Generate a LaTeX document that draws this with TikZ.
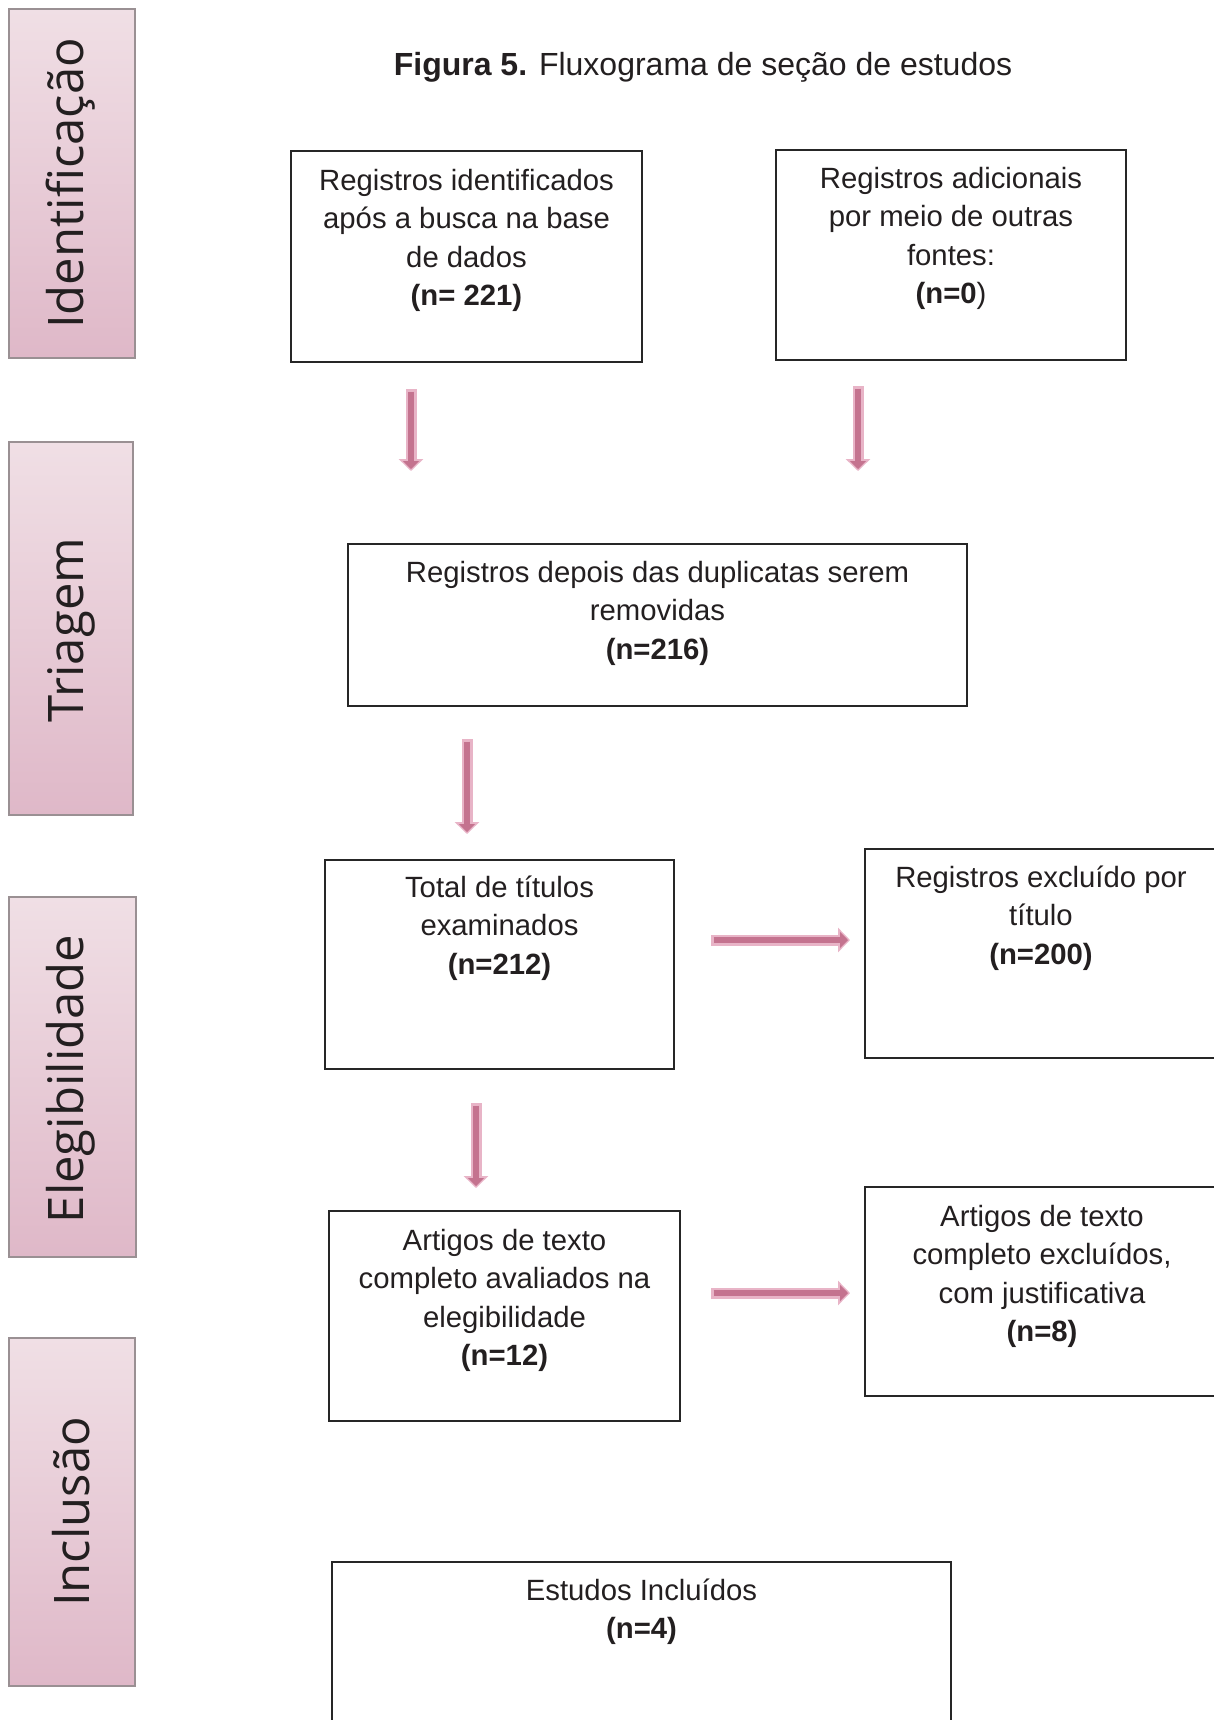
\documentclass[tikz,border=0pt]{standalone}
\usepackage{fontspec}
\setmainfont{Liberation Sans}
\newfontfamily\sidefont{Open Sans}
\usetikzlibrary{arrows.meta,fit}
\definecolor{sidetop}{HTML}{F0DFE5}
\definecolor{sidebot}{HTML}{DFB8C8}
\definecolor{sideedge}{HTML}{9A9093}
\definecolor{arrowfill}{HTML}{C4738F}
\definecolor{arrowedge}{HTML}{E8B4C7}
\definecolor{txt}{HTML}{231F20}
\tikzset{
  box/.style={draw=black!85, line width=0.6pt, inner sep=0pt, rectangle},
  sidebox/.style={draw=sideedge, line width=0.6pt, inner sep=0pt, rectangle, top color=sidetop, bottom color=sidebot},
  sidelabel/.style={rotate=90, inner sep=0pt, text=txt, font=\sidefont\fontsize{24.5}{28}\selectfont},
  boxtext/.style={anchor=north, align=center, inner sep=0pt, text=txt, font=\fontsize{14.65}{19.25}\selectfont},
  arrowout/.style={draw=arrowedge, line width=5.5pt, -{Triangle[width=12pt,length=6pt]}},
  arrowin/.style={draw=arrowfill, line width=3.2pt, shorten >=1pt, shorten <=1.3pt, -{Triangle[width=8pt,length=4pt]}}
}
\begin{document}
\begin{tikzpicture}[x=0.5pt,y=-0.5pt]
\useasboundingbox (0,0) rectangle (1214,1720);
\fill[white] (0,0) rectangle (1214,1720);

% side boxes
\node[sidebox, fit={(9,9) (135,358)}] (sIdent) {};
\node[sidebox, fit={(9,442) (133,815)}] (sTri) {};
\node[sidebox, fit={(9,897) (136,1257)}] (sEle) {};
\node[sidebox, fit={(9,1338) (135,1686)}] (sInc) {};
\node[sidelabel] (lIdent) at (71,183.5) {Identificação};
\node[sidelabel] (lTri) at (71,630) {Triagem};
\node[sidelabel] (lEle) at (71,1079) {Elegibilidade};
\node[sidelabel] (lInc) at (71,1512) {Inclusão};

% title
\node[inner sep=0pt, text=txt, font=\fontsize{16}{19}\selectfont] (title) at (703,67.5) {\textbf{Figura 5.} Fluxograma de seção de estudos};

% boxes
\node[box, fit={(291,151) (642,362)}] (A) {};
\node[box, fit={(776,150) (1126,360)}] (B) {};
\node[box, fit={(348,544) (967,706)}] (C) {};
\node[box, fit={(325,860) (674,1069)}] (D) {};
\node[box, fit={(865,849) (1217,1058)}] (E) {};
\node[box, fit={(329,1211) (680,1421)}] (F) {};
\node[box, fit={(865,1187) (1217,1396)}] (G) {};
\node[box, fit={(332,1562) (951,1730)}] (H) {};

\node[boxtext] (tA) at (466.5,168.5) {Registros identificados\\após a busca na base\\de dados\\\textbf{(n= 221)}};
\node[boxtext] (tB) at (951,166.5) {Registros adicionais\\por meio de outras\\fontes:\\\textbf{(n=0})};
\node[boxtext] (tC) at (657.5,560.5) {Registros depois das duplicatas serem\\removidas\\\textbf{(n=216)}};
\node[boxtext] (tD) at (499.5,875.5) {Total de títulos\\examinados\\\textbf{(n=212)}};
\node[boxtext] (tE) at (1041,865.5) {Registros excluído por\\título\\\textbf{(n=200)}};
\node[boxtext] (tF) at (504.5,1228.5) {Artigos de texto\\completo avaliados na\\elegibilidade\\\textbf{(n=12)}};
\node[boxtext] (tG) at (1042,1204.5) {Artigos de texto\\completo excluídos,\\com justificativa\\\textbf{(n=8)}};
\node[boxtext] (tH) at (641.5,1578.5) {Estudos Incluídos\\\textbf{(n=4)}};

% arrow end points
\coordinate (a1s) at (411,389); \coordinate (a1e) at (411,471);
\coordinate (a2s) at (858,386); \coordinate (a2e) at (858,471);
\coordinate (a3s) at (467,739); \coordinate (a3e) at (467,834);
\coordinate (a4s) at (476,1103); \coordinate (a4e) at (476,1188);
\coordinate (a5s) at (711,940); \coordinate (a5e) at (850,940);
\coordinate (a6s) at (711,1293); \coordinate (a6e) at (850,1293);
\foreach \i in {1,...,6}{
  \draw[arrowout] (a\i s) -- (a\i e);
  \draw[arrowin] (a\i s) -- (a\i e);
}
\end{tikzpicture}
\end{document}
